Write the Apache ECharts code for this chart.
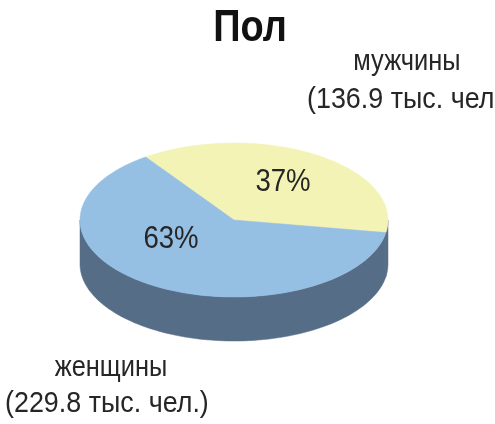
<!DOCTYPE html>
<html><head><meta charset="utf-8">
<script src="https://cdn.jsdelivr.net/npm/echarts@6/dist/echarts.min.js"></script>
<style>html,body{margin:0;padding:0;background:#fff}#c{width:495px;height:424px}</style>
</head><body><div id="c"></div>
<script>
const titleText = 'Пол';
const categories = ['мужчины', 'женщины'];
const valuesThousand = [136.9, 229.8];
const percentLabels = ['37%', '63%'];
const detailLabels = ['(136.9 тыс. чел.)', '(229.8 тыс. чел.)'];

const topColors = ['#F3F3B6', '#95BFE3'];
const sideColors = ['#5A6F86', '#556D87'];
const FONT = '"Liberation Sans", Arial, sans-serif';
const CX = 234, CY = 220, RX = 154, RY = 77, DEPTH = 44;
const START = -125 * Math.PI / 180;
const pctPos = [[283, 182], [171, 239]];
const namePos = [[407, 62, 'center'], [111, 368, 'center']];
const detailPos = [[307, 100, 'left'], [5, 404, 'left']];

const total = valuesThousand.reduce((a, b) => a + b, 0);

function arc(a, b, dy) {
  const pts = [];
  const n = Math.max(4, Math.ceil((b - a) / (Math.PI / 90)));
  for (let k = 0; k <= n; k++) {
    const t = a + (b - a) * k / n;
    pts.push([CX + RX * Math.cos(t), CY + RY * Math.sin(t) + dy]);
  }
  return pts;
}
function txt(x, y, text, size, align, bold, sx, sy) {
  return {
    type: 'text', x: x, y: y, scaleX: sx, scaleY: sy, silent: true,
    style: { x: 0, y: 0, text: text, fill: '#262626', align: align, verticalAlign: 'middle',
      font: (bold ? 'bold ' : '') + size + 'px ' + FONT }
  };
}

function renderItem(params, api) {
  const i = params.dataIndex;
  let before = 0;
  for (let k = 0; k < i; k++) before += valuesThousand[k];
  const a = START + before / total * 2 * Math.PI;
  const b = a + api.value(0) / total * 2 * Math.PI;
  const children = [];
  for (let k = -1; k <= 1; k++) {
    const lo = Math.max(a, 2 * Math.PI * k), hi = Math.min(b, Math.PI + 2 * Math.PI * k);
    if (hi > lo) {
      const pts = arc(lo, hi, 0).concat(arc(lo, hi, DEPTH).reverse());
      children.push({ type: 'polygon', shape: { points: pts }, style: { fill: sideColors[i], stroke: sideColors[i], lineWidth: 0.5 } });
    }
  }
  children.push({ type: 'polygon', z2: 5, shape: { points: [[CX, CY]].concat(arc(a, b, 0)) }, style: { fill: topColors[i], stroke: topColors[i], lineWidth: 0.5 } });
  children.push(Object.assign(txt(pctPos[i][0], pctPos[i][1], percentLabels[i], 24, 'center', false, 1.15, 1.3), { z2: 10 }));
  children.push(txt(namePos[i][0], namePos[i][1], categories[i], 24, namePos[i][2], false, 1.06, 1.2));
  children.push(txt(detailPos[i][0], detailPos[i][1], detailLabels[i], 25, detailPos[i][2], false, 1.075, 1.2));
  return { type: 'group', children: children };
}

const chart = echarts.init(document.getElementById('c'), null, { renderer: 'canvas' });
chart.setOption({
  backgroundColor: '#ffffff',
  animation: false,
  graphic: [{
    type: 'text', x: 250, y: 29, scaleY: 1.18,
    style: { x: 0, y: 0, text: titleText, fill: '#111', align: 'center', verticalAlign: 'middle', font: 'bold 38px ' + FONT }
  }],
  series: [{
    type: 'custom',
    coordinateSystem: 'none',
    renderItem: renderItem,
    data: valuesThousand.map((v, i) => ({ name: categories[i], value: [v] }))
  }]
});
</script>
</body></html>
